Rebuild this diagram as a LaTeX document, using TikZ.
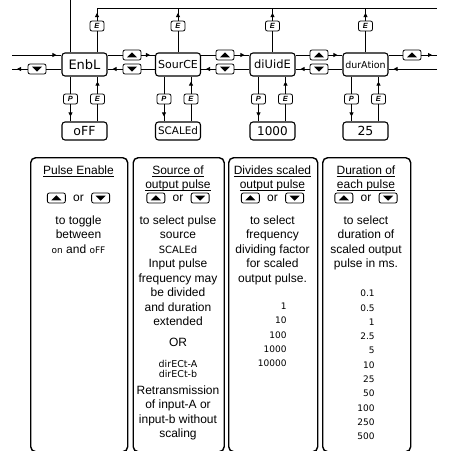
\documentclass[tikz,border=0pt]{standalone}
\usepackage{fontspec}
\setmainfont{Liberation Sans}
\newfontfamily\segfont{DejaVu Sans}
\usetikzlibrary{arrows.meta,decorations.markings,positioning}

\newcommand{\segtext}[2]{{\segfont\fontsize{#1}{#1}\selectfont #2}}
\newcommand{\headline}[1]{\underline{\raisebox{0pt}[\height][0pt]{#1}}}

\tikzset{
  dispbox/.style={draw, line width=1.1pt, rounded corners=3pt, minimum width=45pt, minimum height=23pt, inner sep=0pt},
  valbox/.style={draw, line width=1.1pt, rounded corners=3pt, minimum width=45pt, minimum height=18pt, inner sep=0pt},
  btn/.style={draw, line width=0.8pt, rounded corners=2pt, fill=white, inner sep=0pt, minimum width=18pt, minimum height=10pt},
  upbtn/.style={btn, path picture={\fill[black, sharp corners] ([xshift=-5pt,yshift=-2.3pt]path picture bounding box.center) -- ++(10pt,0pt) -- ++(-5pt,5pt) -- cycle;}},
  dnbtn/.style={btn, path picture={\fill[black, sharp corners] ([xshift=-5pt,yshift=2.3pt]path picture bounding box.center) -- ++(10pt,0pt) -- ++(-5pt,-5pt) -- cycle;}},
  letbtn/.style={btn, minimum width=14pt, minimum height=10pt, font=\fontsize{7.5}{7.5}\selectfont\bfseries\itshape},
  flowto/.style={postaction={decorate}, decoration={markings, mark=at position -5pt with {\arrow{Triangle[length=4pt,width=4pt]}}}},
  descbox/.style={draw, line width=1.4pt, rounded corners=5pt, inner sep=0pt, anchor=north west},
  desc/.style={align=center, inner sep=0pt, font=\fontsize{12}{14.5}\selectfont}
}

\begin{document}
\begin{tikzpicture}[x=1pt,y=-1pt,line width=0.8pt]
  \useasboundingbox (0,0) rectangle (450,451);

  % Top return line and the entry from above
  \coordinate (topL) at (97,8);
  \coordinate (topR) at (437,8);
  \draw (topL) -- (topR);
  \coordinate (entry) at (70,0);

  % Draw the display boxes, their values and the P / E keys
  \foreach \name/\cx/\tx/\fs/\lbl/\vfs/\val in {enbl/84.5/97/13/EnbL/12.5/oFF, source/178/178/11/SourCE/10.4/SCALEd, divide/272.5/272.5/11.5/diUidE/12/1000, duration/365.5/365.5/9.5/durAtion/12.5/25}
  {
    \node[dispbox] (\name) at (\cx,64.5) {\segtext{\fs}{\lbl}};
    \node[valbox] (\name-val) at (\cx,131) {\segtext{\vfs}{\val}};
    \node[letbtn] (\name-p) at (\cx-14,99) {P};
    \node[letbtn] (\name-e) at (\cx+13,99) {E};
    \node[letbtn] (\name-top) at (\tx,26) {E};
    \draw (\name.south -| \name-p) -- (\name-p);
    \draw[flowto] (\name-p) -- (\name-p |- \name-val.north);
    \draw (\name-val.north -| \name-e) -- (\name-e);
    \draw[flowto] (\name-e) -- (\name-e |- \name.south);
    \draw (\name.north -| \name-top) -- (\name-top);
    \draw[flowto] (\name-top) -- (\name-top |- topL);
  }
  \draw (entry) -- (entry |- enbl.north);

  % Up and down keys between the boxes
  \foreach \a/\b/\bx in {enbl/source/132, source/divide/225, divide/duration/319}
  {
    \node[upbtn] (\a-next) at (\bx,55) {};
    \node[dnbtn] (\a-back) at (\bx,69) {};
    \draw (\a.east |- \a-next) -- (\a-next);
    \draw[flowto] (\a-next) -- (\b.west |- \a-next);
    \draw (\b.west |- \a-back) -- (\a-back);
    \draw[flowto] (\a-back) -- (\a.east |- \a-back);
  }

  % Left end
  \coordinate (inL) at (12,55);
  \coordinate (outL) at (12,69);
  \node[dnbtn] (first-back) at (37,69) {};
  \draw[flowto] (inL) -- (enbl.west |- inL);
  \draw (enbl.west |- first-back) -- (first-back);
  \draw[flowto] (first-back) -- (outL);

  % Right end
  \coordinate (outR) at (437,55);
  \coordinate (inR) at (437,69);
  \node[upbtn] (last-next) at (412,55) {};
  \draw (duration.east |- last-next) -- (last-next);
  \draw[flowto] (last-next) -- (outR);
  \draw[flowto] (inR) -- (duration.east |- inR);

  % Description panels
  \node[descbox, minimum width=97pt, minimum height=294pt] (pulsebox) at (30,157) {};
  \node[descbox, minimum width=91pt, minimum height=294pt] (sourcebox) at (132.5,157) {};
  \node[descbox, minimum width=89pt, minimum height=294pt] (dividebox) at (228,157) {};
  \node[descbox, minimum width=88pt, minimum height=294pt] (durationbox) at (322,157) {};

  % Headings
  \node[desc, anchor=north] (pulse-head) at (78.5,165.3) {\headline{Pulse Enable}};
  \node[desc, anchor=north] (source-head) at (178,165.3) {\headline{Source of}\\\headline{output pulse}};
  \node[desc, anchor=north] (divide-head) at (272.5,165.3) {\headline{Divides scaled}\\\headline{output pulse}};
  \node[desc, anchor=north] (duration-head) at (366,165.3) {\headline{Duration of}\\\headline{each pulse}};

  % Key rows
  \foreach \who/\bx in {pulse/78.5, source/178, divide/272.5, duration/366}
  {
    \node[desc] (\who-or) at (\bx,198) {or};
    \node[upbtn, left=7pt of \who-or] (\who-ku) {};
    \node[dnbtn, right=7pt of \who-or] (\who-kd) {};
  }

  % Pulse Enable text
  \node[desc, anchor=north] (pulse-body) at (78.5,215.3) {to toggle\\between\\\segtext{9}{on} and \segtext{9}{oFF}};

  % Source text
  \node[desc, anchor=north] (source-body) at (178,215.3) {to select pulse\\source\\\segtext{10}{SCALEd}\\Input pulse\\frequency may\\be divided\\and duration\\extended};
  \node[desc, anchor=base] (source-alt) at (178,346) {OR};
  \node[desc, anchor=north, font=\segfont\fontsize{9.5}{10.5}\selectfont] (source-direct) at (178,359.5) {dirECt-A\\dirECt-b};
  \node[desc, anchor=north] (source-retrans) at (178,385.3) {Retransmission\\of input-A or\\input-b without\\scaling};

  % Divide text and factors
  \node[desc, anchor=north] (divide-body) at (272.5,215.3) {to select\\frequency\\dividing factor\\for scaled\\output pulse.};
  \node[desc, align=right, anchor=north east, font=\segfont\fontsize{9}{14.3}\selectfont] (divide-list) at (287,302.7) {1\\10\\100\\1000\\10000};

  % Duration text and values
  \node[desc, anchor=north] (duration-body) at (366,215.3) {to select\\duration of\\scaled output\\pulse in ms.};
  \node[desc, align=right, anchor=north east, font=\segfont\fontsize{9}{14.3}\selectfont] (duration-list) at (375,289.7) {0.1\\0.5\\1\\2.5\\5\\10\\25\\50\\100\\250\\500};
\end{tikzpicture}
\end{document}
